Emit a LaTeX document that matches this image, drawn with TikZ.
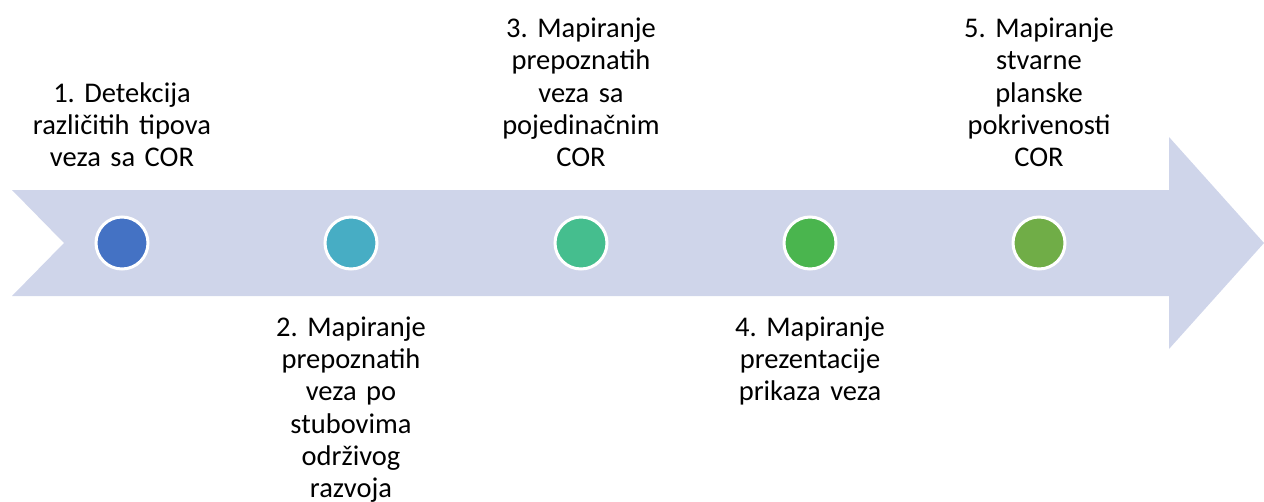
\documentclass[tikz,border=0pt]{standalone}
\usepackage{fontspec}
\setmainfont{Carlito}
\frenchspacing
\definecolor{arrowfill}{HTML}{CFD5EA}
\definecolor{cA}{HTML}{4472C4}
\definecolor{cB}{HTML}{47ADC4}
\definecolor{cC}{HTML}{45BE8E}
\definecolor{cD}{HTML}{4AB54E}
\definecolor{cE}{HTML}{70AD47}
\begin{document}
\begin{tikzpicture}[x=1pt,y=-1pt,
  dot/.style={circle,draw=white,line width=3pt,minimum size=52pt,inner sep=0pt},
  lbl/.style={inner sep=0pt,text width=220pt,align=center,font=\fontsize{28.5}{32.3}\selectfont\frenchspacing},
  toplbl/.style={lbl,anchor=south},
  botlbl/.style={lbl,anchor=north}]
\useasboundingbox (0,0) rectangle (1264,501);
\fill[arrowfill] (12,190) -- (1169,190) -- (1169,137) -- (1264,243) -- (1169,349) -- (1169,296) -- (12,296) -- (64,243) -- cycle;
\node[dot,fill=cA] (d1) at (122,243) {};
\node[dot,fill=cB] (d2) at (351,243) {};
\node[dot,fill=cC] (d3) at (581,243) {};
\node[dot,fill=cD] (d4) at (810,243) {};
\node[dot,fill=cE] (d5) at (1039,243) {};
\node[toplbl] (t1) at (122,176.7) {\strut 1. Detekcija\\ različitih tipova\\ veza sa COR\strut};
\node[botlbl] (t2) at (351,313.4) {\strut 2. Mapiranje\\ prepoznatih\\ veza po\\ stubovima\\ održivog\\ razvoja\strut};
\node[toplbl] (t3) at (581,176.7) {\strut 3. Mapiranje\\ prepoznatih\\ veza sa\\ pojedinačnim\\ COR\strut};
\node[botlbl] (t4) at (810,313.4) {\strut 4. Mapiranje\\ prezentacije\\ prikaza veza\strut};
\node[toplbl] (t5) at (1039,176.7) {\strut 5. Mapiranje\\ stvarne\\ planske\\ pokrivenosti\\ COR\strut};
\end{tikzpicture}
\end{document}
